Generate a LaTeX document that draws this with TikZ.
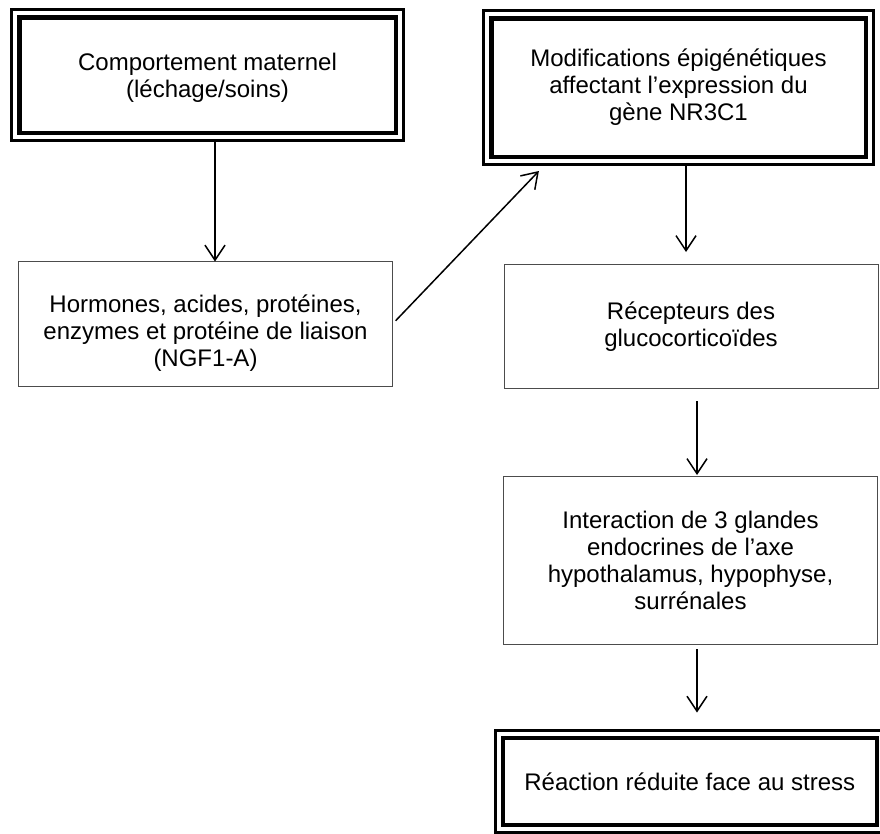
\documentclass[tikz,border=0pt]{standalone}
\usepackage{fontspec}
\setmainfont{Liberation Sans}
\usetikzlibrary{arrows.meta,fit}

\begin{document}
\begin{tikzpicture}[x=1pt,y=-1pt,
  font=\fontsize{24}{27}\selectfont,
  plainbox/.style={draw=black!70, line width=1pt, align=center, minimum width=374pt, inner sep=0pt, outer sep=0pt},
  thickbox/.style={draw, line width=4.5pt, align=center, inner sep=0pt, outer sep=0pt},
  outerframe/.style={draw, line width=3pt, inner sep=7.75pt, outer sep=0pt},
  flow/.style={-{Straight Barb[length=15pt,width=20pt]}, line width=1.5pt}]
\useasboundingbox (0,0) rectangle (880,833);
\node[thickbox, minimum width=376.5pt, minimum height=115.5pt] (comp) at (207.5,75) {\rule{0pt}{22pt}Comportement maternel\\(léchage/soins)};
\node[outerframe, fit=(comp)] (comp-o) {};
\node[plainbox, minimum height=125pt] (horm) at (205.5,324) {\rule{0pt}{35pt}Hormones, acides, protéines,\\enzymes et protéine de liaison\\(NGF1-A)};
\node[thickbox, minimum width=374.5pt, minimum height=138.5pt] (epig) at (678.5,87.5) {Modifications épigénétiques\\affectant l’expression du\\gène NR3C1};
\node[outerframe, fit=(epig)] (epig-o) {};
\node[plainbox, minimum height=124pt] (recep) at (691,326.5) {Récepteurs des\\glucocorticoïdes};
\node[plainbox, minimum height=168pt] (axe) at (690.5,560.5) {Interaction de 3 glandes\\endocrines de l’axe\\hypothalamus, hypophyse,\\surrénales};
\node[thickbox, minimum width=374pt, minimum height=87.25pt] (stress) at (689.75,781.4) {Réaction réduite face au stress};
\node[outerframe, fit=(stress)] (stress-o) {};
\draw[flow] ([xshift=7.5pt]comp-o.south) -- ([xshift=7.5pt]comp-o.south |- horm.north);
\draw[flow, shorten <=4.5pt, shorten >=9pt] (horm.east) -- ([xshift=61.6pt]epig-o.south west);
\draw[flow, shorten >=12.5pt] ([xshift=7.5pt]epig-o.south) -- ([xshift=7.5pt]epig-o.south |- recep.north);
\draw[flow, shorten <=12.5pt, shorten >=1.5pt] ([xshift=6pt]recep.south) -- ([xshift=6pt]recep.south |- axe.north);
\draw[flow, shorten <=4.5pt, shorten >=17.5pt] ([xshift=6.5pt]axe.south) -- ([xshift=6.5pt]axe.south |- stress-o.north);
\end{tikzpicture}
\end{document}
